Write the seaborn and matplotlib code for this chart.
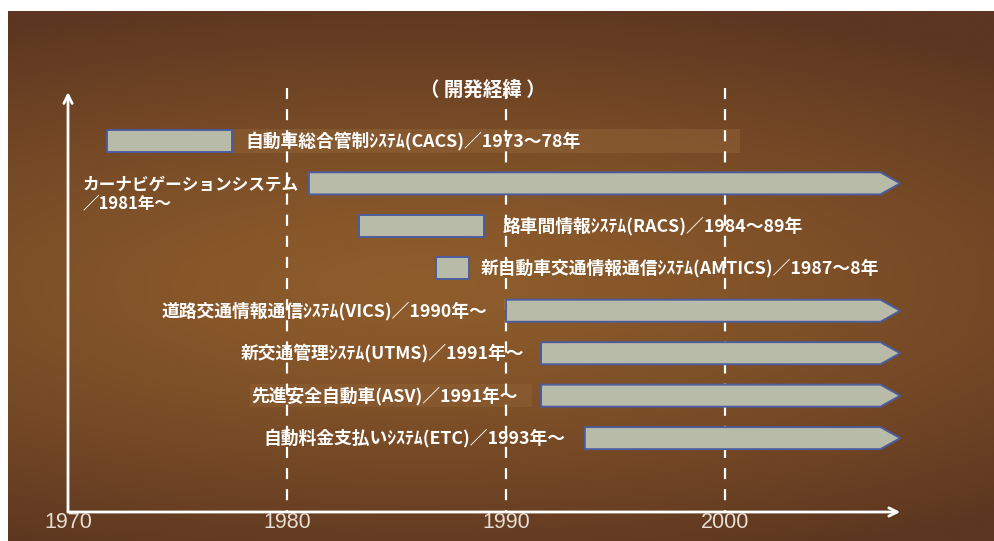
import numpy as np
import matplotlib
matplotlib.use("Agg")
import matplotlib.pyplot as plt
from matplotlib.patches import Polygon, Rectangle
import seaborn as sns

# ---------------- data ----------------
labels = [
    "自動車総合管制ｼｽﾃﾑ(CACS)／1973～78年",
    "カーナビゲーションシステム\n／1981年～",
    "路車間情報ｼｽﾃﾑ(RACS)／1984～89年",
    "新自動車交通情報通信ｼｽﾃﾑ(AMTICS)／1987～8年",
    "道路交通情報通信ｼｽﾃﾑ(VICS)／1990年～",
    "新交通管理ｼｽﾃﾑ(UTMS)／1991年～",
    "先進安全自動車(ASV)／1991年～",
    "自動料金支払いｼｽﾃﾑ(ETC)／1993年～",
]
starts = [1971.8, 1981.0, 1983.3, 1986.8, 1990.0, 1991.6, 1991.6, 1993.6]
ends = [1977.5, None, 1989.0, 1988.3, None, None, None, None]   # None = ongoing (arrow)
label_side = ["right", "left2", "right", "right", "left", "left", "left", "left"]
label_x = [1978.1, 1970.65, 1989.85, 1988.85, 1989.15, 1990.85, 1990.55, 1992.7]
ticks = [1970, 1980, 1990, 2000]
tick_labels = ["1970", "1980", "1990", "2000"]
dashed_years = [1980, 1990, 2000]
title = "（ 開発経緯 ）"

# ---------------- style ----------------
sns.set_theme(style="white")
plt.rcParams["font.family"] = ["Noto Sans CJK JP", "DejaVu Sans"]

W, H = 994, 541
fig = plt.figure(figsize=(W / 100, H / 100), dpi=100)
fig.patch.set_facecolor("white")

# background gradient
bg = fig.add_axes([8 / W, 0, 1 - 8 / W, 1 - 11 / H])
bg.set_axis_off()
ny, nx = 300, 500
yy, xx = np.mgrid[0:1:ny * 1j, 0:1:nx * 1j]
d = np.sqrt(((xx - 0.42) / 0.95) ** 2 + ((yy - 0.52) / 0.55) ** 2)
d = np.clip(d, 0, 1)
c_center = np.array([0x8f, 0x5d, 0x2c]) / 255
c_edge = np.array([0x5c, 0x36, 0x20]) / 255
t = d[..., None] ** 1.3
img = c_center * (1 - t) + c_edge * t
bg.imshow(img, aspect="auto", extent=[0, 1, 0, 1], origin="upper")
bg.set_xlim(0, 1)
bg.set_ylim(0, 1)

# main axes (full figure)
ax = fig.add_axes([0, 0, 1, 1])
ax.set_facecolor("none")
ax.set_axis_off()
px_per_year = 21.9
x0 = 1970 - 68 / px_per_year
ax.set_xlim(x0, x0 + W / px_per_year)
row0, row_px = 140.9, 42.46
ax.set_ylim((H - row0) / row_px, -row0 / row_px)

def yrow(px):
    return (px - row0) / row_px

axis_y = yrow(512)
arrow_end = 2008.0
rect_end = 2007.1
bh = 0.52
fill_c = "#b7bba8"
edge_c = "#4d5c9c"

# dashed guide lines
for yr in dashed_years:
    ax.plot([yr, yr], [yrow(88), axis_y], color="white", lw=1.6,
            linestyle=(0, (5, 4.5)), zorder=2)

# translucent bands behind some labels
ax.add_patch(Rectangle((1977.5, 0 - 0.29), 2000.7 - 1977.5, 0.58,
                       facecolor="#a07040", alpha=0.35, edgecolor="none", zorder=1))
ax.add_patch(Rectangle((1978.3, 6 - 0.27), 1991.2 - 1978.3, 0.54,
                       facecolor="#a07040", alpha=0.25, edgecolor="none", zorder=1))

# bars
for i, (s, e) in enumerate(zip(starts, ends)):
    if e is not None:
        ax.barh(i, e - s, left=s, height=bh, color=fill_c, edgecolor=edge_c,
                linewidth=1.4, zorder=3)
    else:
        pts = [(s, i - bh / 2), (rect_end, i - bh / 2), (arrow_end, i),
               (rect_end, i + bh / 2), (s, i + bh / 2)]
        ax.add_patch(Polygon(pts, closed=True, facecolor=fill_c,
                             edgecolor=edge_c, linewidth=1.4, zorder=3))

# labels
fs = 12.8
for i, (lab, side, lx) in enumerate(zip(labels, label_side, label_x)):
    if side == "right":
        ax.text(lx, i, lab, ha="left", va="center", color="white",
                fontsize=fs, fontweight="bold", zorder=4)
    elif side == "left":
        ax.text(lx, i, lab, ha="right", va="center", color="white",
                fontsize=fs, fontweight="bold", zorder=4)
    else:
        ax.text(lx, yrow(194), lab, ha="left", va="center", color="white",
                fontsize=12.0, fontweight="bold", linespacing=1.0, zorder=4)

# axes arrows
ax.annotate("", xy=(arrow_end, axis_y), xytext=(1970, axis_y),
            arrowprops=dict(arrowstyle="->,head_length=0.5,head_width=0.25",
                            color="white", lw=2, shrinkA=0, shrinkB=0), zorder=5)
ax.annotate("", xy=(1970, yrow(92)), xytext=(1970, axis_y),
            arrowprops=dict(arrowstyle="->,head_length=0.5,head_width=0.25",
                            color="white", lw=2, shrinkA=0, shrinkB=0), zorder=5)

# tick labels
for tk, tl in zip(ticks, tick_labels):
    ax.text(tk, yrow(522), tl, ha="center", va="center", color="#e6ddd3",
            fontsize=15.5, family="Liberation Sans", zorder=5)

# title
ax.text(1970 + (483 - 68) / px_per_year, yrow(90), title, ha="center",
        va="center", color="white", fontsize=14, fontweight="bold", zorder=5)

fig.savefig("out.png", dpi=100, facecolor=fig.get_facecolor())
